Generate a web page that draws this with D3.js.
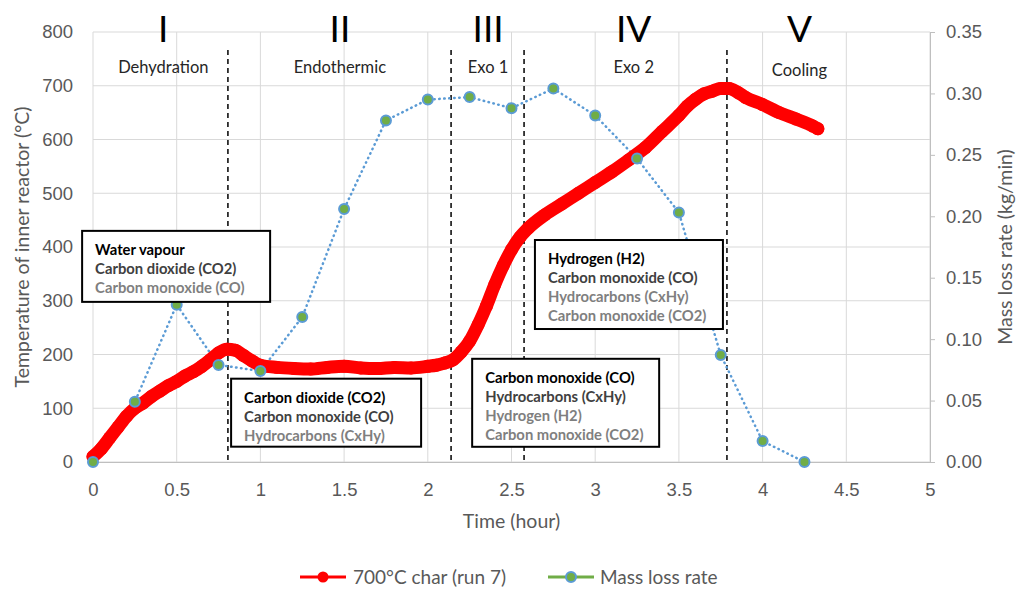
<!DOCTYPE html>
<meta charset=utf-8>
<script src="https://cdn.jsdelivr.net/npm/d3@7"></script>
<style>
body { margin: 0; background: white }
svg { font-family: Lato, "Open Sans", sans-serif }
</style>
<body>
<svg width=1019 height=590 id=chart></svg>
<script>
// temperature of inner reactor, 700°C char (run 7)
const tempTime = [0, 0.05, 0.1, 0.15, 0.2, 0.25, 0.3, 0.35, 0.4, 0.45, 0.5, 0.55, 0.6, 0.65, 0.7, 0.75, 0.8, 0.85, 0.9, 0.95, 1.0, 1.1, 1.2, 1.3, 1.4, 1.5, 1.6, 1.7, 1.8, 1.9, 2.0, 2.05, 2.1, 2.15, 2.2, 2.25, 2.3, 2.35, 2.4, 2.45, 2.5, 2.55, 2.6, 2.7, 2.8, 2.9, 3.0, 3.1, 3.2, 3.3, 3.4, 3.5, 3.55, 3.6, 3.65, 3.7, 3.75, 3.8, 3.85, 3.9, 4.0, 4.1, 4.2, 4.3, 4.33];
const tempValue = [10, 25, 45, 65, 85, 100, 110, 122, 132, 142, 150, 160, 168, 178, 190, 203, 210, 208, 198, 188, 180, 176, 174, 173, 176, 178, 175, 174, 176, 175, 178, 180, 184, 190, 205, 225, 255, 290, 330, 365, 395, 418, 435, 460, 480, 500, 520, 540, 562, 585, 615, 645, 662, 675, 685, 690, 695, 695, 688, 678, 665, 650, 638, 625, 620];
// mass loss rate (kg/min)
const massTime = [0, 0.25, 0.5, 0.75, 1.0, 1.25, 1.5, 1.75, 2.0, 2.25, 2.5, 2.75, 3.0, 3.25, 3.5, 3.75, 4.0, 4.25];
const massRate = [0, 0.049, 0.128, 0.079, 0.074, 0.118, 0.206, 0.278, 0.295, 0.297, 0.288, 0.304, 0.282, 0.247, 0.203, 0.087, 0.017, 0];
// phases
const phaseNumerals = ["I", "II", "III", "IV", "V"];
const phaseNames = ["Dehydration", "Endothermic", "Exo 1", "Exo 2", "Cooling"];
const phaseCentres = [0.42, 1.475, 2.36, 3.23, 4.22];
const phaseBounds = [0.806, 2.139, 2.575, 3.787];
// gases released
const gasLists = [
  ["Water vapour", "Carbon dioxide (CO2)", "Carbon monoxide (CO)"],
  ["Carbon dioxide (CO2)", "Carbon monoxide (CO)", "Hydrocarbons (CxHy)"],
  ["Carbon monoxide (CO)", "Hydrocarbons (CxHy)", "Hydrogen (H2)", "Carbon monoxide (CO2)"],
  ["Hydrogen (H2)", "Carbon monoxide (CO)", "Hydrocarbons (CxHy)", "Carbon monoxide (CO2)"]
];
const xTicks = d3.range(0, 5.01, 0.5);
const yTicks = d3.range(0, 801, 100);
const y2Ticks = d3.range(0, 0.351, 0.05);

const svg = d3.select("#chart");
const x = d3.scaleLinear().domain([0, 5]).range([93, 930]);
const y = d3.scaleLinear().domain([0, 800]).range([462, 32]);
const y2 = d3.scaleLinear().domain([0, 0.35]).range([462, 32]);
const grey = "#595959";

// grid
svg.append("g").attr("stroke", "#d9d9d9").attr("stroke-width", 1)
  .call(g => g.selectAll(".v").data(xTicks).join("line")
    .attr("x1", d => x(d)).attr("x2", d => x(d)).attr("y1", y(800)).attr("y2", y(0)))
  .call(g => g.selectAll(".h").data(yTicks).join("line")
    .attr("x1", x(0)).attr("x2", x(5)).attr("y1", d => y(d)).attr("y2", d => y(d)));

// axes
svg.append("g").attr("transform", `translate(0,${y(0)})`)
  .call(d3.axisBottom(x).tickValues(xTicks).tickSize(0).tickPadding(21).tickFormat(d3.format("")))
  .call(g => g.select(".domain").attr("stroke", "#bfbfbf"))
  .call(g => g.selectAll("text").attr("fill", grey).attr("font-size", 18.5));
svg.append("g").attr("transform", `translate(${x(0)},0)`)
  .call(d3.axisLeft(y).tickValues(yTicks).tickSize(0).tickPadding(20))
  .call(g => g.select(".domain").remove())
  .call(g => g.selectAll("text").attr("fill", grey).attr("font-size", 18.5));
svg.append("g").attr("transform", `translate(${x(5)},0)`)
  .call(d3.axisRight(y2).tickValues(y2Ticks).tickSize(5).tickPadding(11).tickFormat(d3.format(".2f")))
  .call(g => g.selectAll(".domain,line").attr("stroke", "#bfbfbf"))
  .call(g => g.selectAll("text").attr("fill", grey).attr("font-size", 18.5));

svg.append("text").attr("transform", `translate(29,${(y(0) + y(800)) / 2}) rotate(-90)`)
  .attr("text-anchor", "middle").attr("font-size", 19.5).attr("fill", grey)
  .text("Temperature of inner reactor (°C)");
svg.append("text").attr("transform", `translate(1012,${(y(0) + y(800)) / 2}) rotate(-90)`)
  .attr("text-anchor", "middle").attr("font-size", 19.5).attr("fill", grey)
  .text("Mass loss rate (kg/min)");
svg.append("text").attr("x", (x(0) + x(5)) / 2).attr("y", 528)
  .attr("text-anchor", "middle").attr("font-size", 19.5).attr("fill", grey)
  .text("Time (hour)");

// phase boundaries
svg.append("g").selectAll("line").data(phaseBounds).join("line")
  .attr("x1", d => x(d)).attr("x2", d => x(d)).attr("y1", 50).attr("y2", y(0))
  .attr("stroke", "black").attr("stroke-width", 1.5).attr("stroke-dasharray", "5,4");

// phase labels
svg.append("g").selectAll("text").data(phaseNumerals).join("text")
  .attr("x", (d, i) => x(phaseCentres[i])).attr("y", 42)
  .attr("text-anchor", "middle").attr("font-size", 37).attr("fill", "black").text(d => d);
svg.append("g").selectAll("text").data(phaseNames).join("text")
  .attr("x", (d, i) => x(phaseCentres[i])).attr("y", (d, i) => i === 4 ? 76 : 73)
  .attr("text-anchor", "middle").attr("font-size", 16.5).attr("fill", "#262626").text(d => d);

// mass loss rate
svg.append("path").datum(massTime)
  .attr("fill", "none").attr("stroke", "#5b9bd5").attr("stroke-width", 2.5)
  .attr("stroke-dasharray", "0.5,4.5").attr("stroke-linecap", "round")
  .attr("d", d3.line().x(d => x(d)).y((d, i) => y2(massRate[i])));

// temperature
const tempLine = d3.line().curve(d3.curveMonotoneX).x(d => x(d)).y((d, i) => y(tempValue[i]));
svg.append("path").datum(tempTime)
  .attr("fill", "none").attr("stroke", "#ff0000").attr("stroke-width", 13)
  .attr("stroke-linecap", "round").attr("stroke-linejoin", "round")
  .attr("d", tempLine);
svg.append("g").selectAll("circle").data(tempTime).join("circle")
  .attr("cx", d => x(d)).attr("cy", (d, i) => y(tempValue[i])).attr("r", 6.5).attr("fill", "#ff0000");

svg.append("g").selectAll("circle").data(massTime).join("circle")
  .attr("cx", d => x(d)).attr("cy", (d, i) => y2(massRate[i])).attr("r", 5)
  .attr("fill", "#70ad47").attr("stroke", "#5b9bd5").attr("stroke-width", 2);

// gas boxes: [left, top] in data units, width/height in px
const boxPlaces = [[-0.065, 430, 188, 71], [0.825, 155, 190, 68], [2.265, 192, 187, 88], [2.64, 413, 188, 89]];
const lineColours = ["#000000", "#404040", "#7f7f7f", "#7f7f7f"];
gasLists.forEach((lines, k) => {
  const [bx, by, bw, bh] = boxPlaces[k];
  const g = svg.append("g").attr("transform", `translate(${x(bx)},${y(by)})`);
  g.append("rect").attr("width", bw).attr("height", bh)
    .attr("fill", "white").attr("stroke", "black").attr("stroke-width", 2);
  g.selectAll("text").data(lines).join("text")
    .attr("x", 13).attr("y", (d, i) => 24 + i * 19)
    .attr("font-size", 14.8).attr("font-weight", "bold")
    .attr("fill", (d, i) => lineColours[i]).text(d => d);
});

// legend
const leg = svg.append("g").attr("transform", "translate(0,577)");
leg.append("line").attr("x1", 300).attr("x2", 346).attr("stroke", "#ff0000").attr("stroke-width", 3);
leg.append("circle").attr("cx", 323).attr("r", 5.5).attr("fill", "#ff0000");
leg.append("text").attr("x", 353).attr("y", 7).attr("font-size", 19).attr("fill", grey).text("700°C char (run 7)");
leg.append("line").attr("x1", 548).attr("x2", 594).attr("stroke", "#70ad47").attr("stroke-width", 3);
leg.append("circle").attr("cx", 571).attr("r", 5).attr("fill", "#70ad47").attr("stroke", "#5b9bd5").attr("stroke-width", 2);
leg.append("text").attr("x", 600).attr("y", 7).attr("font-size", 19).attr("fill", grey).text("Mass loss rate");
</script>
</body>
